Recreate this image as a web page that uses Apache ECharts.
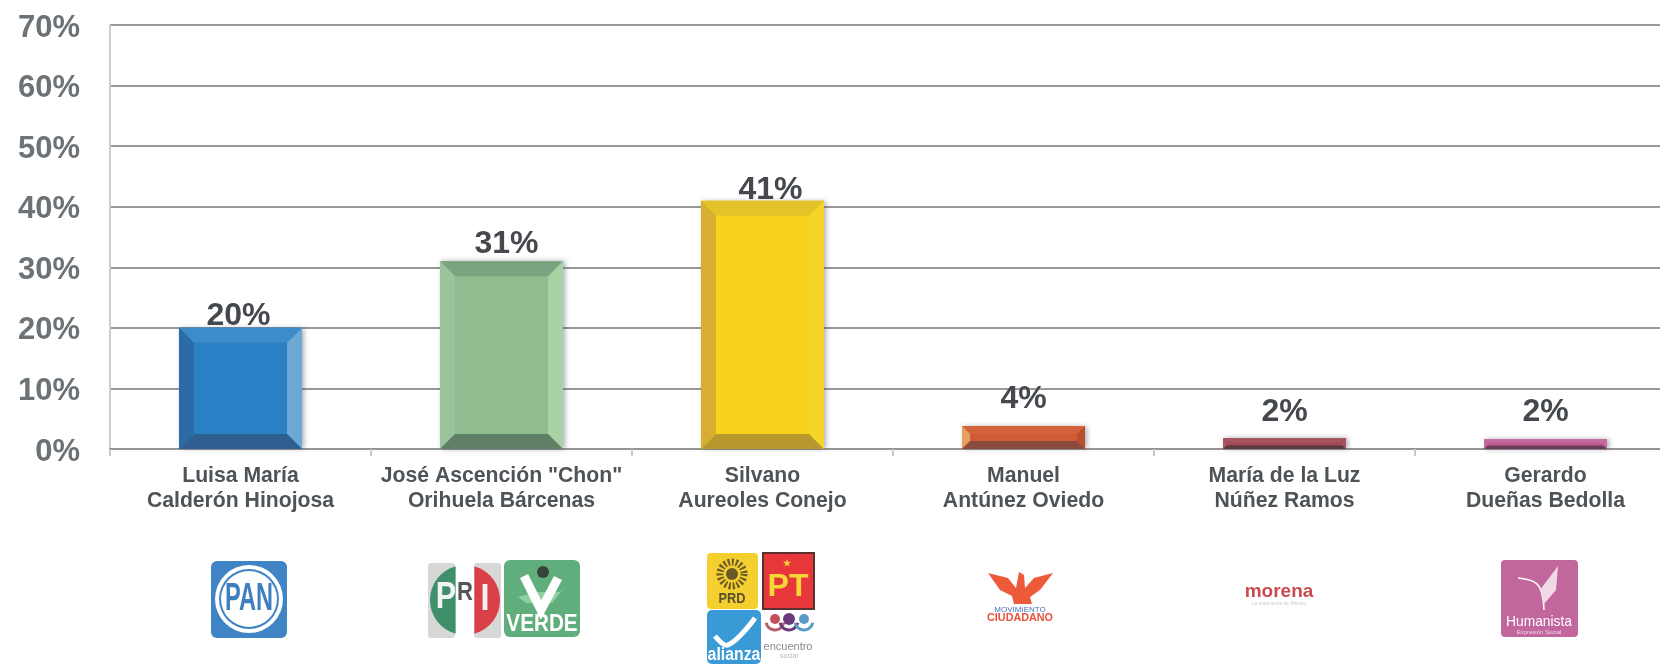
<!DOCTYPE html>
<html>
<head>
<meta charset="utf-8">
<style>
html, body { margin: 0; padding: 0; background: #fff; overflow: hidden; }
#chart { width: 1660px; height: 668px; }
</style>
<script src="https://cdn.jsdelivr.net/npm/echarts@6/dist/echarts.min.js"></script>
</head>
<body>
<div id="chart"></div>
<script>
const candidates = [
	'Luisa María\nCalderón Hinojosa',
	'José Ascención "Chon"\nOrihuela Bárcenas',
	'Silvano\nAureoles Conejo',
	'Manuel\nAntúnez Oviedo',
	'María de la Luz\nNúñez Ramos',
	'Gerardo\nDueñas Bedolla'
];
// bar heights, labels round them
const shares = [20, 31, 41, 3.8, 1.8, 1.6];
const yTicks = [0, 10, 20, 30, 40, 50, 60, 70];

// face, top, left, right, bottom
const barColors = [
	['#2a80c4', '#3b8cc8', '#2c6ca6', '#6ba8d4', '#2f5f90'],
	['#8fbd90', '#79a47f', '#9cc49c', '#a6d2a4', '#5f8067'],
	['#f7d31e', '#e6c22a', '#d6ae30', '#f5d52a', '#b8982c'],
	['#cf5a34', '#d4623a', '#e8a060', '#b8502f', '#8a4a3c'],
	['#a44a58', '#a85562', '#a85562', '#a85562', '#5e3a40'],
	['#c05c94', '#c46a9c', '#c46a9c', '#c46a9c', '#6a3c58']
];
// the labels do not sit evenly on the bars in the original
const labelGaps = [-4, 1, -6, 11, 10, 11];
const labelShifts = [-2, 5, 8, 0, 0, 0];
const barWidth = 123;

function renderBevelBar(params, api) {
	const i = api.value(0);
	const top = api.coord([i, api.value(1)]);
	const base = api.coord([i, 0]);
	const h = base[1] - top[1];
	const x0 = top[0] - barWidth / 2;
	const x1 = top[0] + barWidth / 2;
	const y0 = top[1];
	const y1 = base[1];
	const b = Math.min(15, h * 0.35);
	const c = barColors[i];
	const poly = (points, fill) => ({ type: 'polygon', shape: { points }, style: { fill } });
	return {
		type: 'group',
		children: [
			{
				type: 'rect',
				shape: { x: x0, y: y0, width: barWidth, height: h },
				style: { fill: c[0], shadowBlur: 5, shadowColor: 'rgba(70,70,90,0.45)', shadowOffsetX: 2 }
			},
			poly([[x0, y0], [x1, y0], [x1 - b, y0 + b], [x0 + b, y0 + b]], c[1]),
			poly([[x0, y0], [x0 + b, y0 + b], [x0 + b, y1 - b], [x0, y1]], c[2]),
			poly([[x1, y0], [x1 - b, y0 + b], [x1 - b, y1 - b], [x1, y1]], c[3]),
			poly([[x0, y1], [x0 + b, y1 - b], [x1 - b, y1 - b], [x1, y1]], c[4]),
			{
				type: 'text',
				style: {
					text: Math.round(api.value(1)) + '%',
					x: top[0] + labelShifts[i],
					y: y0 - labelGaps[i],
					align: 'center',
					verticalAlign: 'bottom',
					fill: '#45494d',
					font: 'bold 32px "Liberation Sans", Arial, sans-serif'
				}
			}
		]
	};
}

const logoFont = '"Liberation Sans", Arial, sans-serif';
const rrect = (x, y, w, h, r, fill) => ({ type: 'rect', shape: { x, y, width: w, height: h, r }, style: { fill } });
const label = (text, x, y, size, fill, weight, scaleX) => ({
	type: 'text',
	x,
	y,
	scaleX: scaleX || 1,
	style: { text, align: 'center', verticalAlign: 'middle', fill, font: (weight || 'bold') + ' ' + size + 'px ' + logoFont }
});
const circle = (cx, cy, r, fill, stroke, lineWidth, lineDash) => ({
	type: 'circle',
	shape: { cx, cy, r },
	style: { fill: fill || 'transparent', stroke, lineWidth, lineDash }
});
// circle piece cut off by a vertical chord at angle a from the horizontal
const chordPiece = (cx, cy, r, mid, a, fill) => {
	const points = [];
	for (let k = 0; k <= 16; k++) {
		const t = mid - a + (2 * a * k) / 16;
		points.push([cx + r * Math.cos(t), cy + r * Math.sin(t)]);
	}
	return { type: 'polygon', shape: { points }, style: { fill } };
};

const logos = [
	// PAN
	rrect(211, 561, 76, 77, 6, '#3f84c4'),
	circle(249, 599, 34, '#fff'),
	circle(249, 599, 30, '#3f84c4'),
	circle(249, 599, 28, '#fff'),
	label('PAN', 249, 600, 38, '#3f7fc0', 'bold', 0.62),
	// PRI
	rrect(428, 563, 27, 75, 3, '#d6d8d6'),
	rrect(474, 563, 27, 75, 3, '#d6d8d6'),
	chordPiece(465, 600, 35, Math.PI, 1.3, '#3f8f6a'),
	chordPiece(465, 600, 35, 0, 1.3, '#d9404a'),
	label('P', 446, 598, 36, '#f2f2f2', 'bold', 0.85),
	label('R', 465, 593, 26, '#555', 'bold', 0.85),
	label('I', 485, 600, 36, '#f2f2f2', 'bold', 0.9),
	// VERDE
	rrect(504, 560, 76, 77, 6, '#5fae7c'),
	{ type: 'polygon', shape: { points: [[518, 597], [536, 592], [560, 592], [566, 586], [552, 603], [526, 603]] }, style: { fill: '#8fcf9f' } },
	{ type: 'polyline', shape: { points: [[524, 576], [541, 610], [558, 578]] }, style: { stroke: '#fff', lineWidth: 9, fill: 'none' } },
	{ type: 'circle', shape: { cx: 543, cy: 572, r: 6 }, style: { fill: '#39423a' } },
	label('VERDE', 542, 625, 23, '#fff', 'bold', 0.9),
	// PRD
	rrect(707, 553, 51, 56, 4, '#f5cf2e'),
	circle(732, 574, 12, 'transparent', '#6a5a2a', 7, [2, 2]),
	circle(732, 574, 6, '#6a5a2a'),
	label('PRD', 732, 599, 15, '#5a5230', 'bold', 0.85),
	// PT
	rrect(762, 552, 53, 58, 0, '#5a3030'),
	rrect(764, 554, 49, 54, 0, '#e8373a'),
	label('★', 787, 564, 9, '#f5d838'),
	label('PT', 788, 587, 32, '#f5d838'),
	// Nueva Alianza
	rrect(707, 610, 54, 54, 5, '#3a9ad6'),
	{ type: 'polyline', shape: { points: [[715, 636], [728, 645], [755, 618]], smooth: 0.4 }, style: { stroke: '#fff', lineWidth: 5, fill: 'none' } },
	label('alianza', 734, 655, 18, '#fff', 'bold', 0.88),
	// Encuentro Social
	circle(775, 619, 5, '#c4505a'),
	circle(789, 619, 6, '#6a3a7a'),
	circle(804, 619, 5, '#5a9ac8'),
	{ type: 'arc', shape: { cx: 775, cy: 621, r: 9, startAngle: 0.2, endAngle: Math.PI - 0.2 }, style: { stroke: '#b8606a', lineWidth: 3, fill: 'none' } },
	{ type: 'arc', shape: { cx: 789, cy: 621, r: 9, startAngle: 0.2, endAngle: Math.PI - 0.2 }, style: { stroke: '#6a3a7a', lineWidth: 3, fill: 'none' } },
	{ type: 'arc', shape: { cx: 804, cy: 621, r: 9, startAngle: 0.2, endAngle: Math.PI - 0.2 }, style: { stroke: '#5a9ac8', lineWidth: 3, fill: 'none' } },
	label('encuentro', 788, 647, 11, '#8a8a8e', 'normal'),
	label('social', 789, 656, 7, '#b8b8b8', 'normal'),
	// Movimiento Ciudadano
	{ type: 'polygon', shape: { points: [[988, 573], [1008, 578], [1016, 588], [1019, 572], [1024, 575], [1025, 588], [1034, 578], [1053, 573], [1040, 590], [1030, 597], [1032, 604], [1014, 604], [1012, 596], [1000, 590]] }, style: { fill: '#ec5a3a' } },
	label('MOVIMIENTO', 1020, 610, 8, '#4a70b8', 'normal'),
	label('CIUDADANO', 1020, 618, 11, '#e8503a', 'bold', 0.98),
	// morena
	label('morena', 1279, 592, 19, '#c94a50'),
	label('La esperanza de México', 1279, 604, 5, '#cccccc', 'normal'),
	// Humanista
	rrect(1501, 560, 77, 77, 4, '#c2669e'),
	{ type: 'polyline', shape: { points: [[1518, 578], [1538, 585], [1544, 610]], smooth: 0.4 }, style: { stroke: '#fff', lineWidth: 1.5, fill: 'none' } },
	{ type: 'polygon', shape: { points: [[1540, 590], [1558, 566], [1556, 590], [1544, 604]] }, style: { fill: '#f0d8e6' } },
	label('Humanista', 1539, 622, 15, '#fff', 'normal', 0.92),
	label('Expresión Social', 1539, 632, 6, '#f0d8e6', 'normal')
];

const chart = echarts.init(document.getElementById('chart'), null, { renderer: 'canvas' });
chart.setOption({
	animation: false,
	backgroundColor: '#fff',
	grid: { left: 110, top: 25, width: 1566, height: 424, outerBoundsMode: 'none' },
	xAxis: {
		type: 'category',
		data: candidates,
		axisLine: { lineStyle: { color: '#949494', width: 2 } },
		axisTick: { show: true, length: 7, lineStyle: { color: '#c8c8c8', width: 2 } },
		axisLabel: {
			color: '#4e5357',
			fontFamily: 'Liberation Sans',
			fontWeight: 'bold',
			fontSize: 21.2,
			lineHeight: 25.5,
			margin: 14,
			interval: 0
		}
	},
	yAxis: {
		type: 'value',
		min: yTicks[0],
		max: yTicks[yTicks.length - 1],
		interval: 10,
		axisLine: { show: true, lineStyle: { color: '#cdcdcd', width: 2 } },
		axisTick: { show: false },
		splitLine: { lineStyle: { color: '#989898', width: 2 } },
		axisLabel: {
			color: '#6c7276',
			fontFamily: 'Liberation Sans',
			fontWeight: 'bold',
			fontSize: 31,
			margin: 30,
			verticalAlign: 'top',
			lineHeight: 6,
			formatter: '{value}%'
		}
	},
	series: [{
		type: 'custom',
		renderItem: renderBevelBar,
		encode: { x: 0, y: 1 },
		data: shares.map((v, i) => [i, v]),
		clip: false
	}],
	graphic: logos
});
</script>
</body>
</html>
